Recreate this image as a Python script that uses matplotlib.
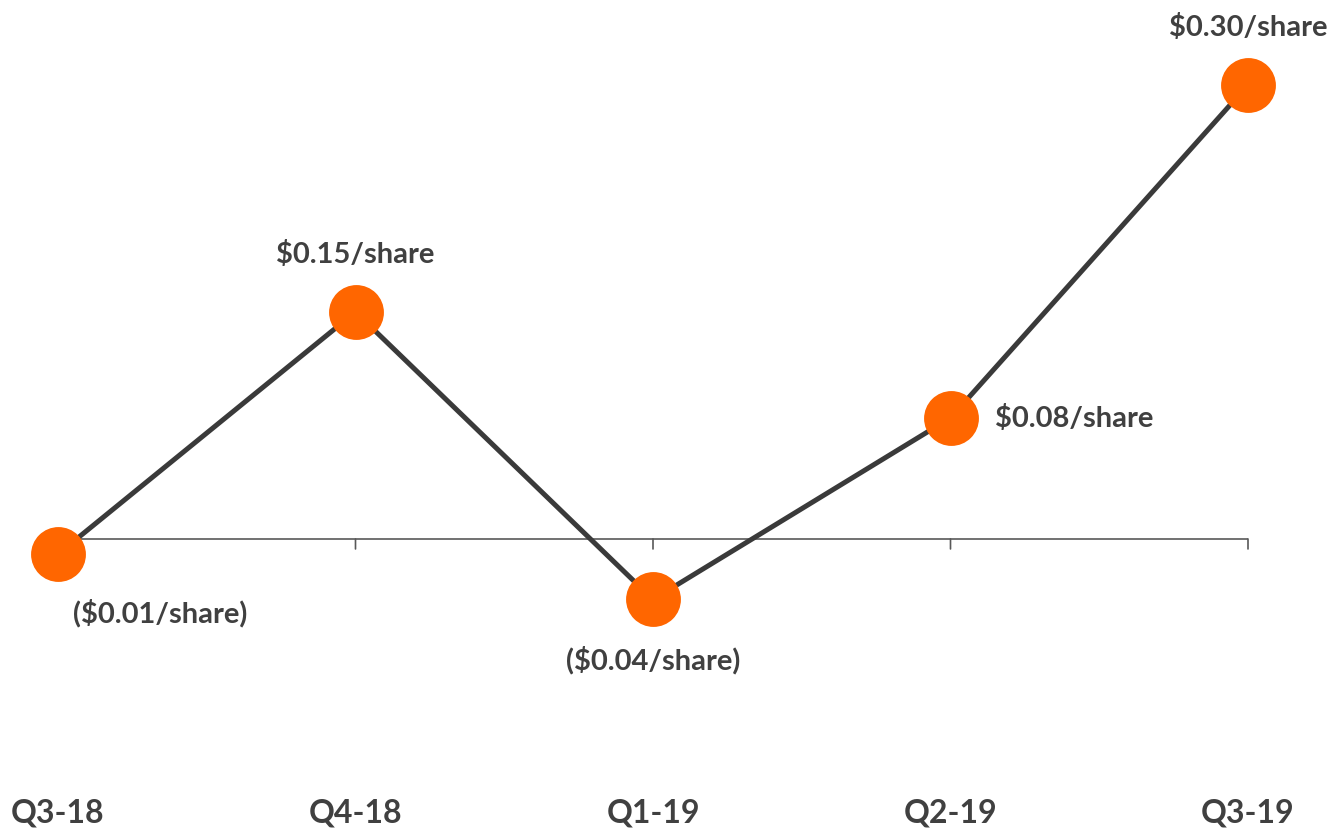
import matplotlib
matplotlib.use("Agg")
import matplotlib.pyplot as plt
import matplotlib.transforms as mtransforms

quarters = ["Q3-18", "Q4-18", "Q1-19", "Q2-19", "Q3-19"]
eps = [-0.01, 0.15, -0.04, 0.08, 0.30]
eps_labels = ["($0.01/share)", "$0.15/share", "($0.04/share)", "$0.08/share", "$0.30/share"]

# label placement around each point: (dx, dy) in pixels, horizontal alignment
label_pos = [((102, -58), "center"), ((0, 58), "center"), ((0, -60), "center"),
             ((45, 0), "left"), ((0, 58), "center")]

ORANGE = "#FF6600"
LINE = "#3A3A3A"
TEXT = "#404040"

plt.rcParams["font.family"] = ["Lato", "DejaVu Sans"]

fig = plt.figure(figsize=(13.32, 8.29), dpi=100)
ax = fig.add_axes([58 / 1332, 0, 1190 / 1332, 1])
x = list(range(len(quarters)))
ax.set_xlim(0, len(quarters) - 1)
ax.set_ylim(-0.191, 0.3568)

for s in ax.spines.values():
    s.set_visible(False)
ax.set_yticks([])
ax.set_xticks([])

# zero baseline with downward category ticks
ax.axhline(0, color="#595959", lw=1.2, zorder=1)
for xi in x:
    ax.annotate("", xy=(xi, 0), xycoords="data", xytext=(0, -10), textcoords="offset pixels",
                arrowprops=dict(arrowstyle="-", color="#595959", lw=1.2, shrinkA=0, shrinkB=0))

ax.plot(x, eps, color=LINE, lw=3.6, zorder=2, solid_capstyle="round")
ax.plot(x, eps, "o", color=ORANGE, markersize=39.5, markeredgewidth=0, zorder=3, clip_on=False)

for xi, v, lab, ((dx, dy), ha) in zip(x, eps, eps_labels, label_pos):
    ax.annotate(lab, xy=(xi, v), xytext=(dx, dy), textcoords="offset pixels",
                ha=ha, va="center", fontsize=21, fontweight="bold", color=TEXT,
                annotation_clip=False)

bottom_tr = mtransforms.blended_transform_factory(ax.transData, fig.transFigure)
for xi, q in zip(x, quarters):
    ax.text(xi, 1 - 813 / 829, q, transform=bottom_tr, ha="center", va="center",
            fontsize=23, fontweight="bold", color=TEXT, clip_on=False)

fig.savefig("out.png", dpi=100, facecolor="white")
